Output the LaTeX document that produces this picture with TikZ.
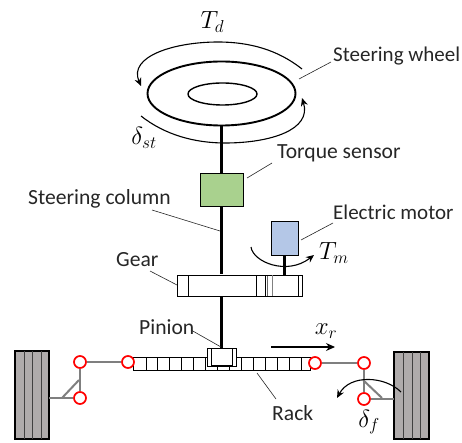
\documentclass[tikz,border=0pt]{standalone}
\usepackage{fontspec}
\setmainfont{Carlito}
\usetikzlibrary{arrows.meta}
\definecolor{sensorgreen}{HTML}{A9D18E}
\definecolor{motorblue}{HTML}{B4C7E7}
\definecolor{tiregray}{HTML}{AFABAB}
\definecolor{linkgray}{HTML}{7F7F7F}
\tikzset{
 px/.style={x=1pt,y=-1pt},
 lbl/.style={font=\fontsize{21.6}{23}\selectfont,inner sep=0pt,text=black!85},
 lblsw/.style={font=\fontsize{21}{23}\selectfont,inner sep=0pt,text=black!85},
 mathlbl/.style={font=\fontsize{24}{26}\selectfont,inner sep=0pt},
 leader/.style={line width=0.6pt,black!85},
 shaft/.style={line width=3pt,black},
 curv/.style={line width=1.1pt,-{Stealth[length=8pt,width=7pt]}},
 link/.style={line width=2pt,linkgray},
 joint/.style={circle,draw=red,fill=white,line width=1.7pt,minimum size=12pt,inner sep=0pt},
 tirebox/.style={draw=black,line width=1.4pt,fill=tiregray,inner sep=0pt},
 boxg/.style={draw=black,line width=1pt,fill=white,inner sep=0pt},
}
\begin{document}
\begin{tikzpicture}[px]
\useasboundingbox (0,0) rectangle (462,443);
% shaft
\draw[shaft] (221,125) -- (221,174);
\draw[shaft] (221,207) -- (221,274);
\draw[shaft] (221,296) -- (221,348);
% wheel
\draw[line width=1.9pt] (221.5,93.5) ellipse (74 and 32);
\draw[line width=1.4pt] (222.5,94) ellipse (34.5 and 11);
% Td arrow
\draw[curv] (302,69) .. controls (278,50) and (250,42) .. (218,42) .. controls (175,42) and (128,56) .. (141,86);
% delta arrow
\draw[curv] (141,116) .. controls (165,135) and (195,143) .. (225,143) .. controls (270,143) and (312,130) .. (302,98);
% labels
\node[mathlbl] (Td) at (212.5,22) {$T_d$};
\node[mathlbl] (dst) at (144,138) {$\delta_{st}$};
\node[lblsw,anchor=west] (sw) at (333,56) {Steering wheel};
\coordinate (swe) at (299,79);
\draw[leader] (331,62) -- (swe);
% torque sensor
\node[draw=black,line width=1pt,fill=sensorgreen,minimum width=43pt,minimum height=33pt,inner sep=0pt] (ts) at (221.5,190.5) {};
\node[lbl,anchor=west] (tsl) at (277,153) {Torque sensor};
\draw[leader] (272,163) -- (247,178);
% steering column
\node[lbl,anchor=west] (sc) at (28,198.5) {Steering column};
\draw[leader] (152,210) -- (220,231);
% motor
\node[draw=black,line width=1pt,fill=motorblue,minimum width=27pt,minimum height=33pt,inner sep=0pt] (em) at (284.5,238.5) {};
\node[lblsw,anchor=west] (eml) at (333,212) {Electric motor};
\draw[leader] (333,223) -- (301,240);
\draw[shaft] (284.5,255) -- (284.5,275);
\draw[curv] (251,247) .. controls (253,262) and (287,276) .. (314,255);
\node[mathlbl] (Tm) at (334,253) {$T_m$};
% gear
\draw[boxg] (177,275) rectangle (267,296);
\draw[line width=1pt] (188,275) -- (188,296) (256,275) -- (256,296) (265.5,275) -- (265.5,296);
\draw[line width=1pt,black!60,fill=white] (267,275.5) rectangle (302,296.5);
\draw[line width=1pt] (267,275.5) -- (302,275.5) -- (302,296.5) -- (267,296.5);
\draw[line width=1pt,black!50] (272,275) -- (272,296);
\draw[line width=1pt] (298,275) -- (298,296);
\node[lbl,anchor=west] (gl) at (116,260) {Gear};
\draw[leader] (150,271) -- (177,285);
% rack
\draw[line width=1pt,fill=white] (133,357) rectangle (310,370);
\foreach \x in {146,157,169,181,193,205,217,229,241,253,265,277,289,301}{\draw[line width=0.9pt] (\x,357) -- (\x,370);}
% pinion
\draw[line width=1pt,fill=white] (207,348) rectangle (236,366);
\draw[line width=1pt,fill=white] (211,348) rectangle (232,365);
\node[lbl,anchor=west] (pl) at (139,327) {Pinion};
\draw[leader] (191,330) -- (221,347);
% xr
\draw[line width=1.1pt,-{Stealth[length=9pt,width=8pt]}] (271,347) -- (335,347);
\node[mathlbl] (xr) at (326,331) {$x_r$};
% rack label
\node[lbl,anchor=west] (rl) at (272,413) {Rack};
\draw[leader] (257,373) -- (276,399);
% left wheel
\draw[tirebox] (15,351) rectangle (49,439);
\draw[line width=0.9pt,black!75] (24,351) -- (24,439) (32,351) -- (32,439) (41,351) -- (41,439);
\node[joint] (la) at (80,362) {};
\node[joint] (lb) at (80,398) {};
\node[joint] (lc) at (128,362) {};
\draw[link] (la) -- (lb);
\draw[link] (la) -- (lc);
\draw[link] (49,398) -- (lb);
\draw[link] (62,398) -- (79,380);
% right wheel
\draw[tirebox] (394,352) rectangle (429,439);
\draw[line width=0.9pt,black!75] (403,352) -- (403,439) (412,352) -- (412,439) (420,352) -- (420,439);
\node[joint] (ra) at (364,363) {};
\node[joint] (rb) at (364,399) {};
\node[joint] (rc) at (315,363) {};
\draw[link] (ra) -- (rb);
\draw[link] (rc) -- (ra);
\draw[link] (rb) -- (394,399);
\draw[link] (363,380) -- (382,398);
\draw[curv] (401,392) .. controls (385,376) and (350,374) .. (337,398);
\node[mathlbl] (df) at (369,422) {$\delta_f$};
\end{tikzpicture}
\end{document}
